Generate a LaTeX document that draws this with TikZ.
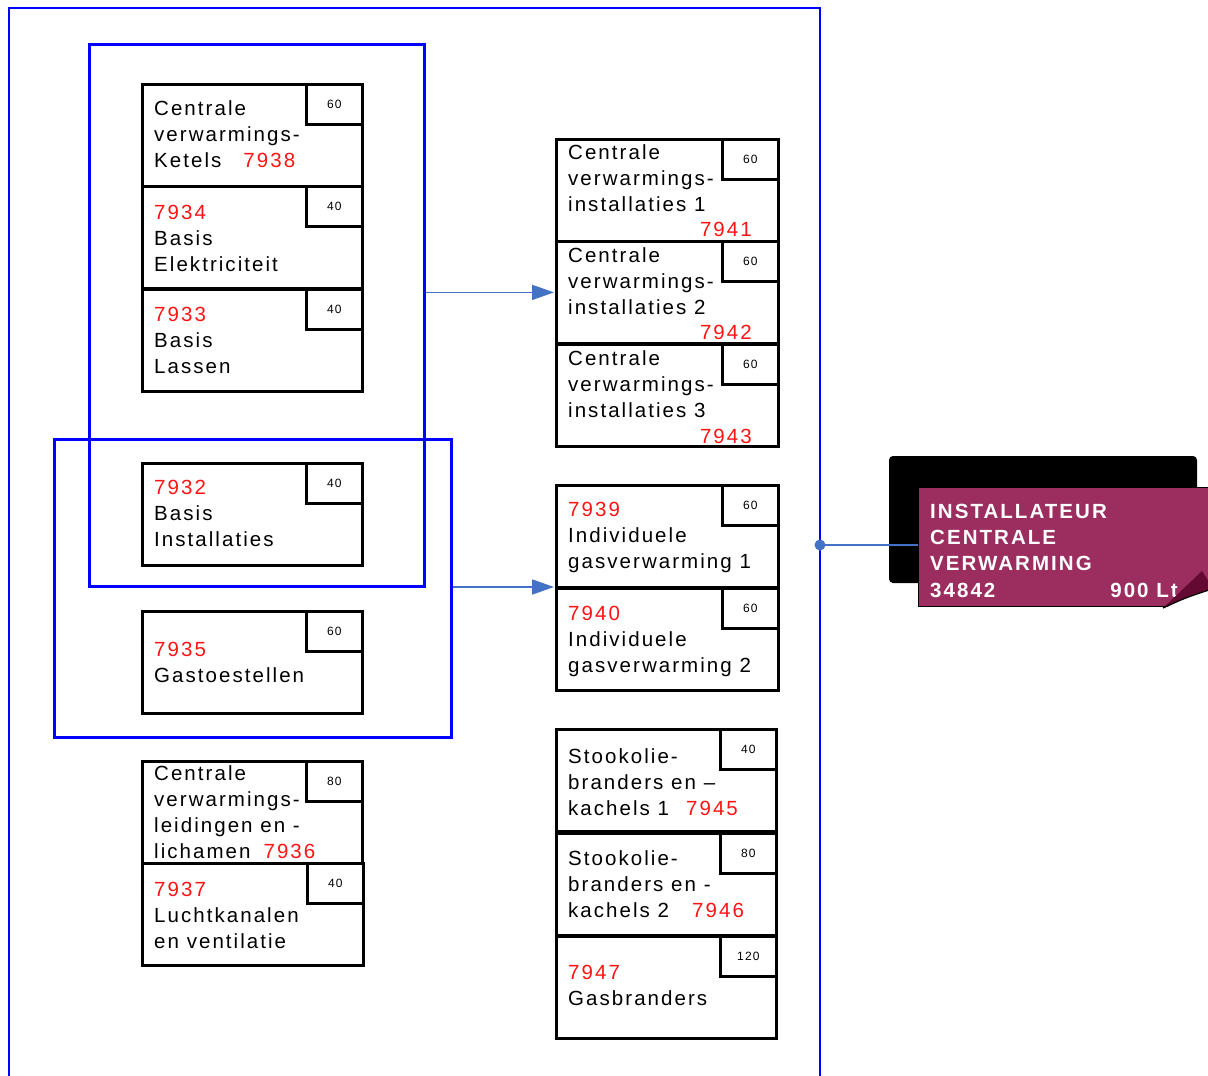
\documentclass[tikz,border=0pt]{standalone}
\usepackage{fontspec}
\setmainfont{Liberation Sans}[LetterSpace=10]
\usetikzlibrary{arrows.meta}
\definecolor{kaderblauw}{RGB}{0,0,255}
\definecolor{pijlblauw}{RGB}{68,114,196}
\definecolor{nummerrood}{RGB}{255,20,20}
\definecolor{paars}{RGB}{155,45,95}
\definecolor{donkerpaars}{RGB}{100,10,50}
\newcommand{\nr}[1]{\textcolor{nummerrood}{#1}}
\tikzset{
  vak/.style={draw, line width=2.8pt, fill=white, anchor=north west, inner sep=0pt, minimum height=102pt},
  uren/.style={draw, line width=2.8pt, fill=white, anchor=north east, inner sep=0pt, minimum width=56pt, minimum height=40pt, font=\fontsize{12}{14}\selectfont},
  tekst/.style={anchor=base west, align=left, inner sep=0pt, font=\fontsize{20.5}{26.3}\selectfont},
  groep/.style={draw=kaderblauw, line width=2.8pt, anchor=north west, inner sep=0pt},
  pijl/.style={draw=pijlblauw, line width=1.8pt, -{Triangle[length=22pt,width=15pt]}, shorten >=1pt},
}
\begin{document}
\begin{tikzpicture}[x=1pt, y=-1pt]
\useasboundingbox (0,0) rectangle (1208,1076);
% buitenkader
\draw[kaderblauw, line width=2.8pt] (9,1090) -- (9,8) -- (820,8) -- (820,1090);
\coordinate (aansl) at (820,545);
% groepen
\node[groep, minimum width=335pt, minimum height=542pt] (grpA) at (88,43) {};
\node[groep, minimum width=397pt, minimum height=298pt] (grpB) at (53,438) {};
% modules: naam/x/y/breedte/uren/laatste basislijn/tekst
\foreach \naam/\x/\y/\b/\u/\ty/\inhoud in {
  7938/141/83/220/60/167.6/{Centrale\\verwarmings-\\Ketels\hspace{22pt}\nr{7938}},
  7934/141/185/220/40/271.6/{\nr{7934}\\Basis\\Elektriciteit},
  7933/141/288/220/40/373.6/{\nr{7933}\\Basis\\Lassen},
  7932/141/462/220/40/546.6/{\nr{7932}\\Basis\\Installaties},
  7935/141/610/220/60/682.3/{\nr{7935}\\Gastoestellen},
  7936/141/760/220/80/858.9/{Centrale\\verwarmings-\\leidingen en -\\lichamen\hspace{13pt}\nr{7936}},
  7937/141/862/221/40/948.6/{\nr{7937}\\Luchtkanalen\\en ventilatie},
  7941/555/138/222/60/211.6/{Centrale\\verwarmings-\\installaties 1},
  7942/555/240/222/60/314.6/{Centrale\\verwarmings-\\installaties 2},
  7943/555/343/222/60/417.6/{Centrale\\verwarmings-\\installaties 3},
  7939/555/484/222/60/568.6/{\nr{7939}\\Individuele\\gasverwarming 1},
  7940/555/587/222/60/672.6/{\nr{7940}\\Individuele\\gasverwarming 2},
  7945/555/728/220/40/815.6/{Stookolie-\\branders en –\\kachels 1\hspace{17pt}\nr{7945}},
  7946/555/832/220/80/917.6/{Stookolie-\\branders en -\\kachels 2\hspace{23pt}\nr{7946}},
  7947/555/935/220/120/1005.3/{\nr{7947}\\Gasbranders}}
{
  \node[vak, minimum width=\b pt] (b\naam) at (\x,\y) {};
  \node[uren] (u\naam) at (b\naam.north east) {\u};
  \node[tekst] (t\naam) at (\x+13,\ty) {\inhoud};
}
\foreach \naam/\ty in {7941/236, 7942/339, 7943/443}
  \node[tekst, anchor=base east] (n\naam) at (752,\ty) {\nr{\naam}};
% pijlen
\draw[pijl] (grpA.east |- b7942.west) -- (b7942.west);
\draw[pijl] (grpB.east |- b7940.north west) -- (b7940.north west);
% beroep
\fill[black, rounded corners=4pt] (889,456) rectangle (1197,583);
\node[anchor=north west, fill=paars, draw=black, line width=1pt, minimum width=300pt, minimum height=119pt, inner sep=0pt] (badge) at (918,487) {};
\node[tekst, text=white, font=\fontsize{20.5}{26.3}\selectfont\bfseries] (beroep) at (930,597) {INSTALLATEUR\\CENTRALE\\VERWARMING\\34842};
\node[tekst, anchor=base east, text=white, font=\fontsize{20.5}{26.3}\selectfont\bfseries] (liter) at (1178,597) {900 Lt};
\fill[white] (1165,608) .. controls (1185,598) .. (1210,590) -- (1210,612) -- (1160,612) -- cycle;
\fill[donkerpaars] (1163,608) -- (1202,571) -- (1209,582) -- (1209,590) .. controls (1185,598) .. (1163,608) -- cycle;
\draw[black, line width=1.2pt] (1163,608) .. controls (1185,598) .. (1209,590);
\draw[pijlblauw, line width=2.5pt] (aansl) -- (aansl -| badge.west);
\fill[pijlblauw] (aansl) circle (5.5pt);
\end{tikzpicture}
\end{document}
